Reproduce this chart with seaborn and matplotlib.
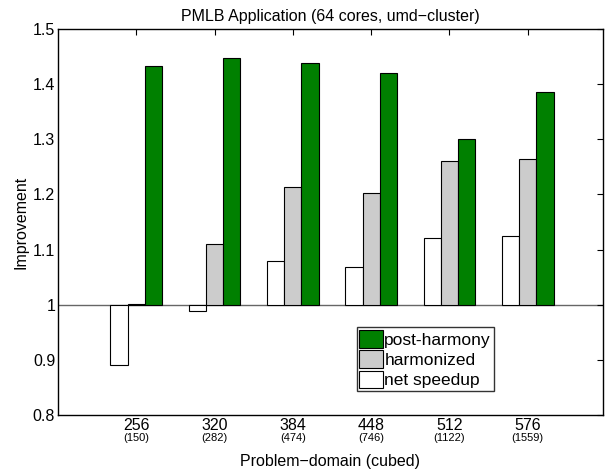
import pandas as pd
import matplotlib
matplotlib.use('Agg')
import matplotlib.pyplot as plt
import matplotlib.ticker as mticker
from matplotlib.patches import Patch
import seaborn as sns

# data
domains = ['256', '320', '384', '448', '512', '576']
cells = ['(150)', '(282)', '(474)', '(746)', '(1122)', '(1559)']
net_speedup = [0.891, 0.988, 1.079, 1.069, 1.121, 1.124]
harmonized = [1.002, 1.110, 1.214, 1.203, 1.260, 1.264]
post_harmony = [1.433, 1.447, 1.438, 1.420, 1.300, 1.385]
series = ['net speedup', 'harmonized', 'post-harmony']
colors = ['#ffffff', '#cccccc', '#008000']

df = pd.DataFrame({
    'domain': domains * 3,
    'series': [s for s in series for _ in domains],
    'value': net_speedup + harmonized + post_harmony,
})
df['delta'] = df['value'] - 1.0

sns.set_style('white')
plt.rcParams['font.family'] = ['Liberation Sans', 'DejaVu Sans']
plt.rcParams['text.color'] = 'black'
plt.rcParams['axes.labelcolor'] = 'black'

fig = plt.figure(figsize=(6.13, 4.72), dpi=100)
ax = fig.add_axes([0.0946, 0.1208, 0.889, 0.818])

sns.barplot(data=df, x='domain', y='delta', hue='series', order=domains,
            hue_order=series, palette=colors, saturation=1, width=0.66, gap=0,
            errorbar=None, edgecolor='black', linewidth=0.8,
            bottom=1.0, legend=False, ax=ax)

ax.axhline(1.0, color='#666666', lw=1.0, zorder=0.5)

ax.set_xlim(-1, 5.96)
ax.set_ylim(0.8, 1.5)
yt = [0.8, 0.9, 1.0, 1.1, 1.2, 1.3, 1.4, 1.5]
ax.yaxis.set_major_locator(mticker.FixedLocator(yt))
ax.yaxis.set_major_formatter(mticker.FixedFormatter(['0.8', '0.9', '1', '1.1', '1.2', '1.3', '1.4', '1.5']))
ax.set_xticks(range(len(domains)))
ax.set_xticklabels(domains)
for i, c in enumerate(cells):
    ax.text(i, -0.047, c, transform=ax.get_xaxis_transform(), ha='center',
            va='top', fontsize=8)

ax.tick_params(direction='in', length=4, width=0.8, top=True, right=True,
               labelsize=11.5, colors='black', pad=2)
for sp in ax.spines.values():
    sp.set_visible(True)
    sp.set_color('black')
    sp.set_linewidth(1.0)

ax.set_xlabel('Problem\u2212domain (cubed)', fontsize=11.5, labelpad=15)
ax.set_ylabel('Improvement', fontsize=11.5, labelpad=3)
ax.set_title('PMLB Application (64 cores, umd\u2212cluster)', fontsize=11.5, pad=6)

handles = [Patch(facecolor=c, edgecolor='black', linewidth=0.8) for c in colors]
leg = ax.legend(handles[::-1], series[::-1], loc='lower left',
                bbox_to_anchor=(0.548, 0.062), fontsize=12.5, frameon=True,
                fancybox=False, edgecolor='black', handlelength=1.35,
                handleheight=1.2, handletextpad=0.1, borderpad=0.15,
                labelspacing=0.15, borderaxespad=0)
leg.get_frame().set_linewidth(1.0)

fig.savefig('out.png', dpi=100)
